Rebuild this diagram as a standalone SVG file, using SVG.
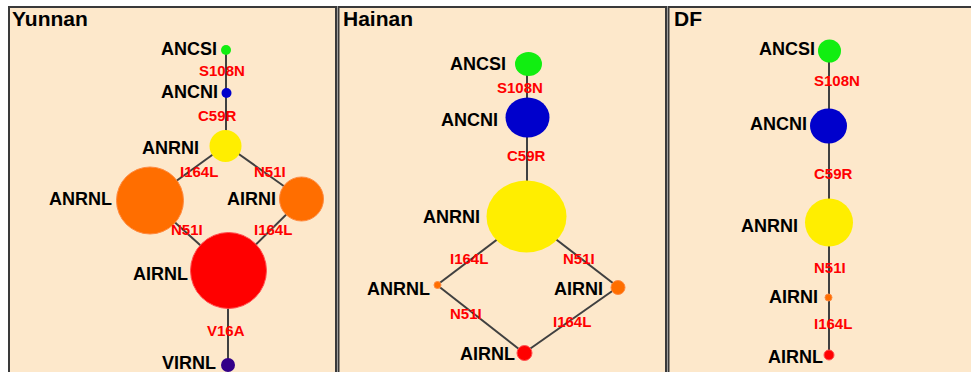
<svg xmlns="http://www.w3.org/2000/svg" width="971" height="372" viewBox="0 0 971 372">
<style>
.panel{fill:#FDE8CB;stroke:#3a3a3a;stroke-width:2}
.title{font-family:"Liberation Sans",Arial,sans-serif;font-weight:bold;font-size:21px;fill:#000}
.lbl{font-family:"Liberation Sans",Arial,sans-serif;font-weight:bold;font-size:18px;fill:#000;text-anchor:end}
.mut{font-family:"Liberation Sans",Arial,sans-serif;font-weight:bold;font-size:15px;fill:#FF0000}
.edge{stroke:#404040;stroke-width:2;fill:none}
.green{fill:#11EE11}
.blue{fill:#0000CC}
.yellow{fill:#FFEE00}
.orange{fill:#FF6E00;stroke:#FF8A40;stroke-width:1}
.red{fill:#FF0000;stroke:#FF5050;stroke-width:1}
.purple{fill:#330088}
</style>
<rect x="0" y="0" width="971" height="372" fill="#FFFFFF"/>
<g id="panel-yunnan">
<rect class="panel" x="9" y="7" width="327" height="380"/>
<text class="title" x="12" y="26">Yunnan</text>
</g>
<g id="panel-hainan">
<rect class="panel" x="338.5" y="7" width="327.5" height="380"/>
<text class="title" x="343" y="26">Hainan</text>
</g>
<g id="panel-df">
<rect class="panel" x="668.5" y="7" width="320" height="380"/>
<text class="title" x="674" y="26">DF</text>
</g>
<g id="connectors">
<line class="edge" x1="226" y1="50" x2="226" y2="145"/>
<line class="edge" x1="226" y1="145" x2="150" y2="200"/>
<line class="edge" x1="226" y1="145" x2="302" y2="199"/>
<line class="edge" x1="150" y1="200" x2="229" y2="271"/>
<line class="edge" x1="302" y1="199" x2="229" y2="271"/>
<line class="edge" x1="228" y1="271" x2="228" y2="365"/>
<line class="edge" x1="527" y1="64" x2="527" y2="217"/>
<line class="edge" x1="527" y1="217" x2="437" y2="285"/>
<line class="edge" x1="527" y1="217" x2="618" y2="287"/>
<line class="edge" x1="437" y1="285" x2="524" y2="353"/>
<line class="edge" x1="618" y1="287" x2="524" y2="353"/>
<line class="edge" x1="829" y1="51" x2="829" y2="355"/>
</g>
<g id="y-ANCSI"><circle class="green" cx="226" cy="50" r="5"/><text class="lbl" x="217" y="55">ANCSI</text></g>
<g id="y-ANCNI"><circle class="blue" cx="226.5" cy="93" r="5"/><text class="lbl" x="218" y="98">ANCNI</text></g>
<g id="y-ANRNI"><circle class="yellow" cx="225.5" cy="146" r="16"/><text class="lbl" x="199" y="154">ANRNI</text></g>
<g id="y-ANRNL"><circle class="orange" cx="150" cy="200.5" r="33.5"/><text class="lbl" x="112" y="205">ANRNL</text></g>
<g id="y-AIRNI"><circle class="orange" cx="301.5" cy="199" r="22"/><text class="lbl" x="276" y="205">AIRNI</text></g>
<g id="y-AIRNL"><circle class="red" cx="228.5" cy="270.5" r="38"/><text class="lbl" x="188" y="280">AIRNL</text></g>
<g id="y-VIRNL"><circle class="purple" cx="228" cy="365" r="7"/><text class="lbl" x="216" y="369">VIRNL</text></g>
<g id="y-mutations">
<text class="mut" x="199" y="76">S108N</text>
<text class="mut" x="198" y="121">C59R</text>
<text class="mut" x="180" y="177">I164L</text>
<text class="mut" x="254" y="177">N51I</text>
<text class="mut" x="171" y="235">N51I</text>
<text class="mut" x="254" y="235">I164L</text>
<text class="mut" x="207" y="336">V16A</text>
</g>
<g id="h-ANCSI"><ellipse class="green" cx="528.5" cy="64" rx="13.5" ry="12"/><text class="lbl" x="506" y="70">ANCSI</text></g>
<g id="h-ANCNI"><ellipse class="blue" cx="527.5" cy="117.5" rx="22" ry="20"/><text class="lbl" x="498" y="126">ANCNI</text></g>
<g id="h-ANRNI"><ellipse class="yellow" cx="526.5" cy="216.5" rx="40" ry="36"/><text class="lbl" x="480" y="223">ANRNI</text></g>
<g id="h-ANRNL"><circle class="orange" cx="437.5" cy="285" r="3.5"/><text class="lbl" x="430" y="295">ANRNL</text></g>
<g id="h-AIRNI"><circle class="orange" cx="618" cy="287.5" r="7"/><text class="lbl" x="603" y="295">AIRNI</text></g>
<g id="h-AIRNL"><circle class="red" cx="524.5" cy="353" r="7.5"/><text class="lbl" x="515" y="360">AIRNL</text></g>
<g id="h-mutations">
<text class="mut" x="497" y="93">S108N</text>
<text class="mut" x="507" y="161">C59R</text>
<text class="mut" x="450" y="264">I164L</text>
<text class="mut" x="563" y="264">N51I</text>
<text class="mut" x="450" y="319">N51I</text>
<text class="mut" x="553" y="327">I164L</text>
</g>
<g id="d-ANCSI"><circle class="green" cx="829.5" cy="51" r="11.5"/><text class="lbl" x="815" y="55">ANCSI</text></g>
<g id="d-ANCNI"><ellipse class="blue" cx="828.5" cy="126" rx="18.5" ry="17.5"/><text class="lbl" x="807" y="130">ANCNI</text></g>
<g id="d-ANRNI"><circle class="yellow" cx="829" cy="222.5" r="24"/><text class="lbl" x="798" y="232">ANRNI</text></g>
<g id="d-AIRNI"><circle class="orange" cx="828.5" cy="297.5" r="3.5"/><text class="lbl" x="818" y="303">AIRNI</text></g>
<g id="d-AIRNL"><circle class="red" cx="829" cy="355" r="5"/><text class="lbl" x="823" y="363">AIRNL</text></g>
<g id="d-mutations">
<text class="mut" x="814" y="86">S108N</text>
<text class="mut" x="814" y="179">C59R</text>
<text class="mut" x="814" y="273">N51I</text>
<text class="mut" x="814" y="329">I164L</text>
</g>
</svg>
